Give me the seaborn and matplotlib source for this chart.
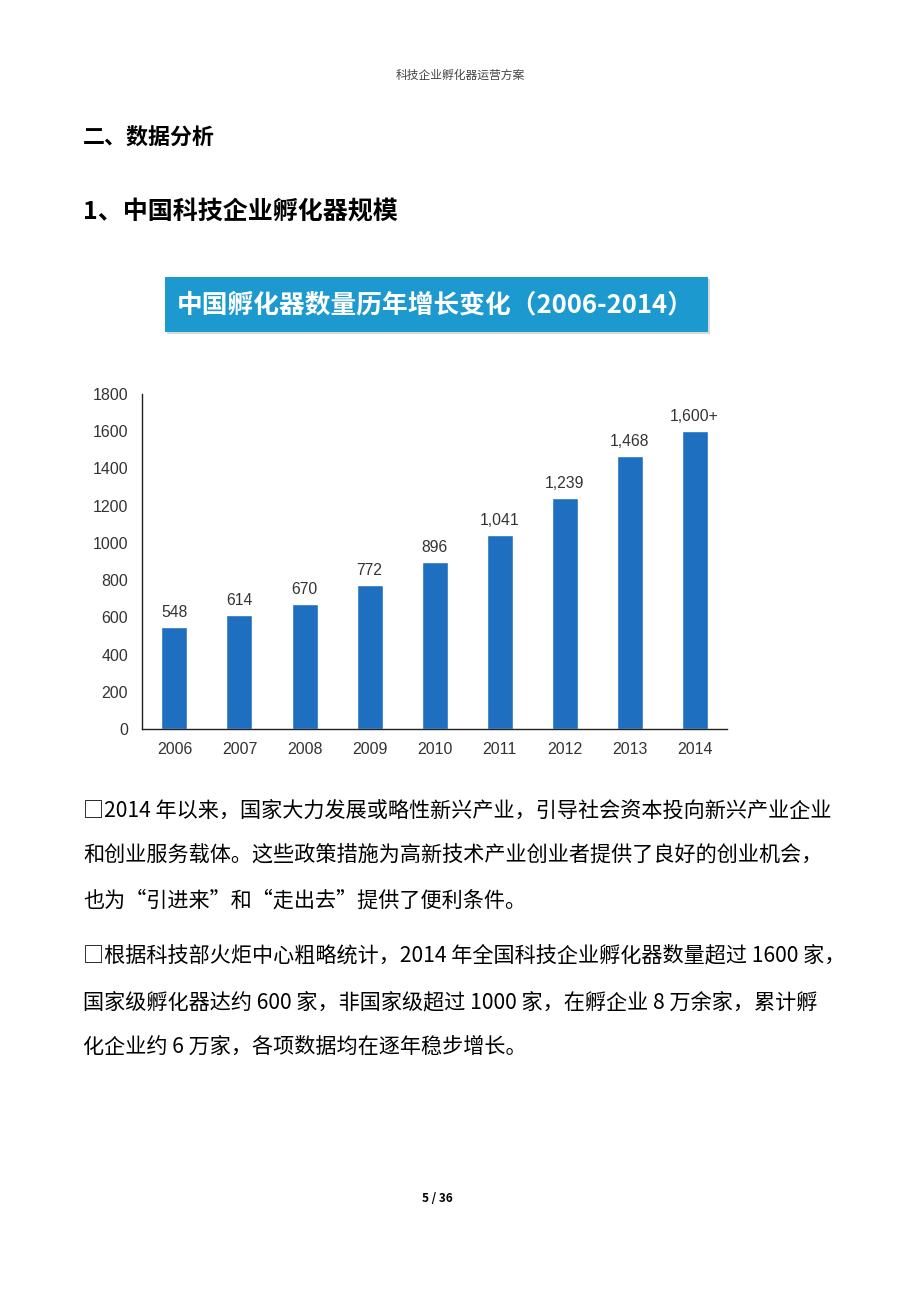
import matplotlib
matplotlib.use('Agg')
import matplotlib.pyplot as plt
import seaborn as sns
import pandas as pd
from matplotlib.patches import Rectangle

# Data
years = ['2006', '2007', '2008', '2009', '2010', '2011', '2012', '2013', '2014']
counts = [548, 614, 670, 772, 896, 1041, 1239, 1468, 1600]
count_labels = ['548', '614', '670', '772', '896', '1,041', '1,239', '1,468', '1,600+']
y_ticks = [0, 200, 400, 600, 800, 1000, 1200, 1400, 1600, 1800]

page_header = '科技企业孵化器运营方案'
section_title = '二、数据分析'
sub_title = '1、中国科技企业孵化器规模'
chart_title = '中国孵化器数量历年增长变化（2006-2014）'
para_lines = [
    '□2014 年以来，国家大力发展或略性新兴产业，引导社会资本投向新兴产业企业',
    '和创业服务载体。这些政策措施为高新技术产业创业者提供了良好的创业机会，',
    '也为“引进来”和“走出去”提供了便利条件。',
    '□根据科技部火炬中心粗略统计，2014 年全国科技企业孵化器数量超过 1600 家，',
    '国家级孵化器达约 600 家，非国家级超过 1000 家，在孵企业 8 万余家，累计孵',
    '化企业约 6 万家，各项数据均在逐年稳步增长。',
]
para_y = [811, 856, 901, 955, 1002, 1047]
footer = '5 / 36'

sns.set_style('white')
plt.rcParams['font.family'] = ['Noto Sans CJK SC', 'DejaVu Sans']

W, H = 920, 1302
fig = plt.figure(figsize=(W / 100, H / 100), dpi=100)
fig.patch.set_facecolor('white')


def px(x, y):
    return x / W, 1 - y / H


# page texts
fig.text(*px(460, 75), page_header, ha='center', va='center', fontsize=8.5, color='#444444')
fig.text(*px(83, 138), section_title, ha='left', va='center', fontsize=15.8, fontweight='bold', color='black')
fig.text(*px(83, 212), sub_title, ha='left', va='center', fontsize=18, fontweight='bold', color='black')

# title banner
x0, y0 = px(165, 332)
bw, bh = (708 - 165) / W, (332 - 277) / H
fig.patches.append(Rectangle((x0 + 0.002, y0 - 0.0015), bw, bh, transform=fig.transFigure,
                             facecolor='#d8d8d8', edgecolor='none', zorder=0))
fig.patches.append(Rectangle((x0, y0), bw, bh, transform=fig.transFigure,
                             facecolor='#1c9ad0', edgecolor='none', zorder=1))
fig.text(*px(435, 305), chart_title, ha='center', va='center', fontsize=18.5,
         fontweight='bold', color='white', zorder=2)

# chart
ax = fig.add_axes([142 / W, 1 - 729 / H, (727 - 142) / W, (729 - 394) / H])
df = pd.DataFrame({'year': years, 'count': counts})
sns.barplot(data=df, x='year', y='count', color='#1f6fc0', width=0.4, saturation=1, ax=ax)
ax.bar_label(ax.containers[0], labels=count_labels, padding=5, fontsize=11.3,
             color='#333333', family=['Liberation Sans', 'DejaVu Sans'])
ax.set_ylim(0, 1800)
ax.set_xlim(-0.5, len(years) - 0.5)
ax.set_yticks(y_ticks)
ax.set_xlabel('')
ax.set_ylabel('')
for s in ['top', 'right']:
    ax.spines[s].set_visible(False)
for s in ['left', 'bottom']:
    ax.spines[s].set_color('#222222')
    ax.spines[s].set_linewidth(1)
ax.tick_params(axis='y', direction='in', length=5, width=1, color='#222222', pad=10,
               labelsize=11.5, labelcolor='#333333')
ax.tick_params(axis='x', which='major', length=0, pad=9, labelsize=11.5, labelcolor='#333333')
ax.set_xticks([i + 0.5 for i in range(len(years))], minor=True)
ax.tick_params(axis='x', which='minor', direction='in', length=5, width=1, color='#222222')
for lab in ax.get_xticklabels() + ax.get_yticklabels():
    lab.set_family(['Liberation Sans', 'DejaVu Sans'])

# paragraph
for line, yy in zip(para_lines, para_y):
    fig.text(*px(83, yy), line, ha='left', va='center', fontsize=15.2, color='black')

fig.text(*px(437, 1198), footer, ha='center', va='center', fontsize=8.5, fontweight='bold', color='black')

fig.savefig('out.png', dpi=100, facecolor='white')
